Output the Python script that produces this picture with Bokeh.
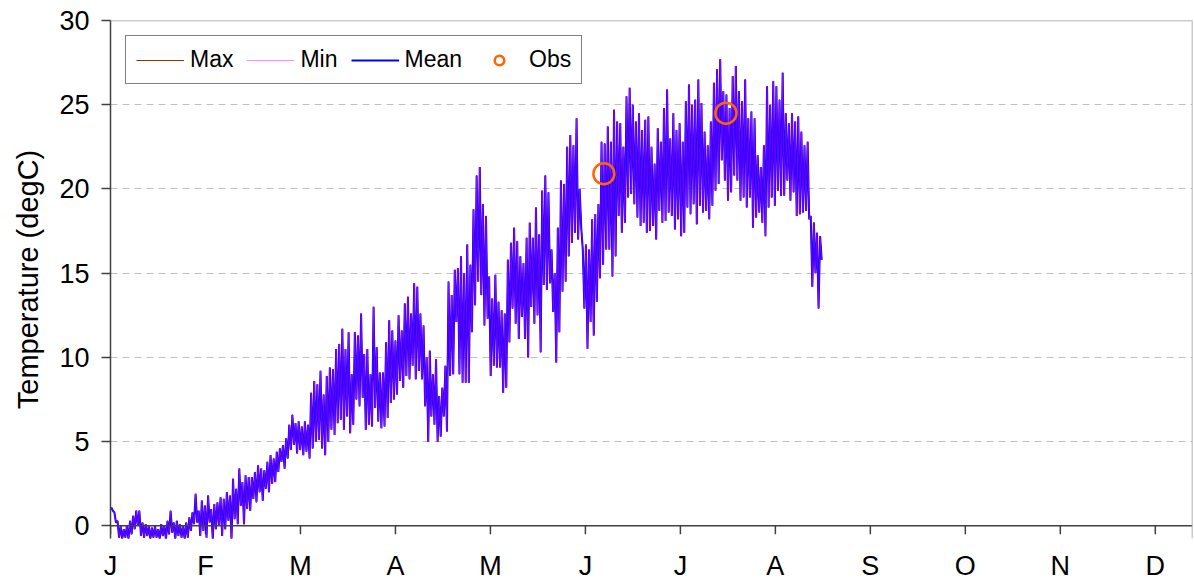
import numpy as np
from bokeh.plotting import figure
from bokeh.models import Range1d, FixedTicker, Span, Legend, LegendItem
from bokeh.embed import file_html
from bokeh.resources import INLINE

# ---- data ----
month_labels = ["J", "F", "M", "A", "M", "J", "J", "A", "S", "O", "N", "D"]
month_pos = [i * 365 / 12 for i in range(12)]

# daily upper values (day 0 = 1 Jan)
t_hi = [
    1.1, 0.8, 0.3, 0.0, -0.2, 0.0, 0.3, 0.6, 0.9, 0.9,
    0.2, 0.1, 0.0, -0.1, 0.0, -0.2, 0.1, 0.0, 0.3, 0.9,
    0.2, 0.3, 0.1, 0.0, 0.2, 0.5, 0.8, 1.9, 0.9, 1.5,
    1.2, 1.8, 1.0, 1.3, 1.4, 1.7, 1.6, 2.0, 1.8, 2.8,
    2.2, 3.4, 2.6, 3.0, 2.9, 2.9, 3.2, 3.6, 3.4, 3.3,
    3.8, 4.2, 4.0, 4.4, 4.6, 4.8, 5.2,
    6.0, 6.6, 6.1, 6.2, 5.9, 6.2, 6.0, 7.9, 8.6, 8.4,
    9.2, 7.8, 8.9, 9.4, 9.3, 10.5, 10.8, 11.7, 10.5, 11.5,
    9.0, 11.5, 11.3, 12.6, 10.2, 10.5, 9.0, 13.0, 10.6, 9.1,
    9.1, 10.9, 12.2, 11.6, 11.0, 12.5, 11.6, 13.2, 13.6, 12.6,
    14.4, 14.2, 12.6, 11.9, 10.0, 10.4, 9.0, 9.9, 7.7, 8.2,
    9.5, 14.5, 13.7, 15.2, 15.3, 16.0, 15.0,
    16.7, 15.5, 18.8, 20.8, 21.3, 19.1, 18.4, 14.8, 13.5, 14.9,
    13.3, 12.8, 12.6, 15.8, 16.8, 17.7, 16.9, 16.0, 15.6, 17.1,
    18.0, 17.1, 18.9, 17.3, 19.9, 20.8, 19.8, 16.4, 15.0, 17.7,
    20.5, 20.3, 22.5, 23.2, 22.6, 24.2, 20.0, 16.4, 16.7, 16.4,
    18.2, 18.5, 19.1, 22.8, 22.7, 23.7, 22.8, 24.7, 24.0, 23.9,
    22.5, 25.5, 26.0, 25.0, 24.0, 24.5, 23.5, 24.1,
    24.3, 22.5, 21.5, 23.6, 22.8, 24.8, 25.9, 23.0, 24.5, 23.5,
    23.9, 22.8, 25.2, 26.2, 25.0, 25.3, 26.5, 25.1, 23.4, 22.6,
    24.0, 26.3, 27.1, 27.7, 25.8, 25.6, 24.8, 26.7, 27.3, 25.8,
    25.2, 26.5, 24.2, 24.6, 24.2, 22.0, 21.3, 22.6, 26.1, 25.0,
    26.4, 26.1, 25.3, 26.9, 24.5, 23.9, 24.5, 24.0, 24.3, 23.4,
    22.6, 22.8, 18.4, 18.0, 17.4, 17.2,
]

# daily lower values
t_lo = [
    0.9, 0.2, -0.7, -0.8, -0.7, -0.8, -0.5, -0.2, 0.0, -0.6,
    -0.7, -0.6, -0.8, -0.7, -0.7, -0.8, -0.6, -0.8, -0.5, -0.4,
    -0.8, -0.6, -0.7, -0.8, -0.7, -0.3, 0.1, 0.2, -0.6, -0.3,
    -0.7, 0.2, -0.8, -0.2, 0.0, -0.6, -0.2, 0.3, -0.8, 0.4,
    0.1, 1.2, 0.1, 1.0, 0.9, 1.6, 1.4, 2.0, 1.5, 2.2,
    2.0, 2.5, 2.6, 3.2, 3.8, 3.4, 4.0,
    4.5, 4.8, 4.3, 4.5, 4.2, 4.4, 4.0, 4.6, 5.0, 5.1,
    4.6, 4.2, 5.0, 5.7, 5.4, 6.1, 6.3, 5.7, 6.5, 5.5,
    6.0, 7.5, 7.1, 7.6, 5.7, 6.0, 5.9, 7.0, 6.2, 5.8,
    5.9, 6.4, 7.3, 7.5, 7.8, 8.6, 8.2, 8.9, 8.7, 9.5,
    8.7, 9.2, 8.7, 7.1, 5.0, 6.5, 6.0, 5.0, 5.3, 6.5,
    5.6, 8.9, 9.0, 12.1, 9.0, 8.5, 8.5,
    8.5, 11.5, 13.1, 14.5, 13.7, 11.9, 12.3, 8.9, 9.5, 9.4,
    9.4, 7.9, 8.2, 10.9, 12.9, 12.0, 11.1, 12.4, 11.1, 10.0,
    13.0, 12.0, 12.5, 10.3, 14.3, 14.0, 14.4, 12.7, 9.7, 11.5,
    13.9, 14.5, 16.0, 16.8, 17.4, 17.0, 17.7, 12.9, 10.5, 12.1,
    11.3, 13.3, 14.7, 15.5, 16.4, 16.4, 14.8, 16.0, 18.4, 17.4,
    18.0, 19.5, 19.7, 19.1, 18.3, 17.8, 18.0, 17.4,
    17.5, 17.8, 17.0, 18.7, 18.0, 18.1, 18.6, 18.4, 17.6, 18.2,
    17.2, 17.4, 18.9, 18.5, 19.1, 17.9, 19.0, 18.6, 18.7, 18.2,
    19.0, 19.9, 20.3, 21.7, 20.5, 19.3, 19.8, 20.8, 20.5, 19.3,
    19.5, 18.9, 19.5, 17.7, 18.3, 18.6, 18.0, 17.2, 18.9, 19.5,
    19.0, 19.9, 19.6, 19.6, 20.5, 19.3, 19.8, 18.4, 18.5, 18.6,
    18.7, 18.2, 14.2, 15.0, 12.9, 15.8,
]

obs_day = [158.0, 197.1]
obs_temp = [20.9, 24.5]

y_ticks = [0, 5, 10, 15, 20, 25, 30]
grid_ticks = [5, 10, 15, 20, 25]

# ---- build series (two readings per day) ----
days = np.arange(len(t_hi))
xs = np.empty(2 * len(days))
ys = np.empty(2 * len(days))
xs[0::2] = days + 0.25
xs[1::2] = days + 0.75
ys[0::2] = t_hi
ys[1::2] = t_lo

FONT = "Liberation Sans"
AX = "#404040"

p = figure(width=1194, height=583,
           x_range=Range1d(0, 346.5), y_range=Range1d(-0.75, 30),
           output_backend="svg", toolbar_location=None,
           min_border_left=110, min_border_right=2,
           min_border_top=20, min_border_bottom=43)
p.outline_line_color = None
p.background_fill_color = "white"

# grid
p.xgrid.visible = False
p.ygrid.ticker = FixedTicker(ticks=grid_ticks)
p.ygrid.grid_line_color = "#BFBFBF"
p.ygrid.grid_line_dash = "7 5"
p.ygrid.grid_line_width = 1

# y axis
p.yaxis.ticker = FixedTicker(ticks=y_ticks)
p.yaxis.axis_line_color = AX
p.yaxis.axis_line_width = 1.5
p.yaxis.major_tick_line_color = AX
p.yaxis.major_tick_line_width = 1.5
p.yaxis.major_tick_out = 9
p.yaxis.major_tick_in = 0
p.yaxis.minor_tick_line_color = None
p.yaxis.major_label_text_font = FONT
p.yaxis.major_label_text_font_size = "27px"
p.yaxis.major_label_text_color = "black"
p.yaxis.major_label_standoff = 12
p.yaxis.axis_label = "Temperature (degC)"
p.yaxis.axis_label_text_font = FONT
p.yaxis.axis_label_text_font_size = "29px"
p.yaxis.axis_label_text_font_style = "normal"
p.yaxis.axis_label_text_color = "black"
p.yaxis.axis_label_standoff = 12

# x axis (line drawn at y = 0)
p.xaxis.ticker = FixedTicker(ticks=month_pos)
p.xaxis.major_label_overrides = {pos: lab for pos, lab in zip(month_pos, month_labels)}
p.xaxis.axis_line_color = None
p.xaxis.major_tick_line_color = None
p.xaxis.minor_tick_line_color = None
p.xaxis.major_tick_out = 0
p.xaxis.major_tick_in = 0
p.xaxis.major_label_standoff = 12
p.xaxis.major_label_text_font = FONT
p.xaxis.major_label_text_font_size = "27px"
p.xaxis.major_label_text_color = "black"

p.add_layout(Span(location=0, dimension="width", line_color=AX, line_width=1.5))
p.add_layout(Span(location=30, dimension="width", line_color="#9A9A9A", line_width=1.5))
p.add_layout(Span(location=346.5, dimension="height", line_color="#9A9A9A", line_width=1.5))
p.segment(x0=month_pos, y0=[0] * 12, x1=month_pos, y1=[-0.5] * 12,
          line_color=AX, line_width=1.5)

# series
r_max = p.line(xs, ys, line_color="#993300", line_width=1)
r_mean = p.line(xs, ys, line_color="#0000FF", line_width=2.0)
r_min = p.line(xs, ys, line_color="#FF00FF", line_width=1, line_alpha=0.45)
r_obs = p.scatter(obs_day, obs_temp, marker="circle", size=21,
                  fill_color=None, line_color="#FF6600", line_width=2.5)

legend = Legend(items=[
    LegendItem(label="Max", renderers=[r_max]),
    LegendItem(label="Min", renderers=[r_min]),
    LegendItem(label="Mean", renderers=[r_mean]),
    LegendItem(label="Obs", renderers=[r_obs]),
], orientation="horizontal", location="top_left", margin=15, padding=10,
    spacing=13, glyph_width=48, glyph_height=24, label_standoff=6,
    label_text_font=FONT, label_text_font_size="23px", label_text_color="black",
    border_line_color="black", border_line_width=1.2,
    background_fill_color="white", background_fill_alpha=1.0)
p.add_layout(legend)

open("out.html", "w").write(file_html(p, INLINE))
